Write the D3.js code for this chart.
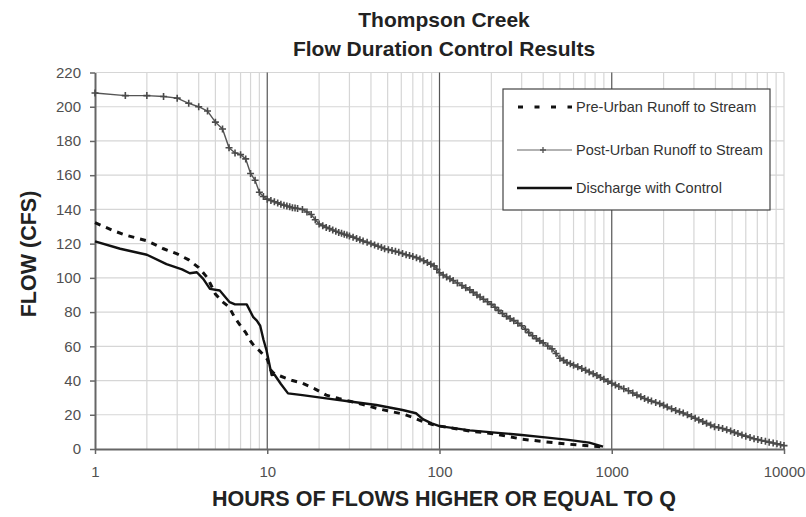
<!DOCTYPE html>
<html>
<head>
    <title>Thompson Creek Flow Duration Control Results</title>
    <script src="https://d3js.org/d3.v7.min.js"></script>
    <style>
        body { margin: 0; background: #fff; }
        svg { display: block; font-family: "Liberation Sans", Arial, sans-serif; }
    </style>
</head>
<body>
    <svg width="806" height="517"></svg>
    <script>
        // values
        var preHours = [1, 1.25, 1.5, 2, 2.5, 3, 3.5, 4, 4.5, 5, 5.5, 6, 6.5, 7, 7.5, 8, 8.5, 9, 9.5, 10, 10.5, 11, 12, 14, 16, 19, 22, 26, 31, 36, 43, 50, 61, 70, 80, 90, 100, 150, 210, 300, 410, 560, 740, 890];
        var preFlow = [132.3, 128, 125, 121.7, 117, 114, 110.5, 106, 100, 90.5, 86, 83, 76.5, 72, 68, 63, 59.5, 57.5, 55, 52.5, 46, 44, 42.5, 40, 38.4, 35, 31.5, 29.5, 27.6, 26, 23.8, 22.3, 20.5, 18.5, 16, 14.5, 13.4, 10.5, 8.8, 5.8, 4.2, 2.8, 1.8, 1.2];

        var postHours = [1, 1.5, 2, 2.5, 3, 3.5, 4, 4.5, 5, 5.5, 6, 6.5, 7, 7.5, 8, 8.5, 9, 9.5,
            10, 10.5, 11, 11.5, 12, 12.5, 13, 13.5, 14, 14.5, 15, 16, 17, 18, 19, 20, 21, 22, 23, 24, 25, 26, 27, 28, 29, 30,
            31.5, 33, 34.5, 36, 38, 40, 42, 44, 46, 48, 50.5, 53, 55.5, 58, 61, 64, 67, 70, 73.5, 77, 81, 85, 89, 93, 96.5,
            100, 105, 110, 115, 120, 127, 135, 142, 150, 157, 165, 172, 180, 190, 200, 210, 220, 232, 245, 257, 270, 285, 300,
            315, 330, 347, 365, 382, 400, 425, 450, 475, 500, 525, 550, 575, 600, 635, 670, 705, 740, 780, 820, 860, 900, 950,
            1000, 1050, 1100, 1175, 1250, 1325, 1400, 1475, 1550, 1625, 1700, 1800, 1900, 2000, 2100, 2225, 2350, 2475, 2600,
            2750, 2900, 3050, 3200, 3375, 3550, 3750, 3950, 4175, 4400, 4650, 4900, 5150, 5400, 5700, 6000, 6350, 6700, 7050,
            7400, 7800, 8200, 8650, 9100, 9550, 10000];
        var postFlow = [208, 206.5, 206.5, 206, 205, 202, 200, 197.5, 191, 187, 176, 173, 172, 169.5, 161, 157, 150, 147.5,
            146, 145.2, 144.5, 143.8, 143, 142.5, 142, 141.5, 141, 140.8, 140.5, 140, 138.5, 137, 134, 131.5, 130.5, 129.5, 128.8, 128, 127.2, 126.5, 126, 125.5, 125, 124.5,
            123.8, 123, 122.2, 121.5, 120.8, 120, 119.2, 118.5, 117.8, 117, 116.5, 116, 115.5, 115, 114.2, 113.5, 113, 112.5, 111.8, 111, 110, 109, 108, 107, 105,
            103, 101.7, 100.5, 99.5, 98.5, 97, 95.5, 94.2, 93, 91.5, 90, 88.8, 87.5, 86, 84.5, 82.8, 81, 79.2, 77.5, 76.2, 75, 73.5, 72,
            70, 68, 66.2, 64.5, 63.2, 62, 60.2, 58.5, 55.8, 53, 51.8, 50.5, 49.8, 49, 48, 47, 46, 45, 44, 43, 41.8, 40.8, 39.5,
            38.4, 37.4, 36.5, 35.2, 34, 32.7, 31.5, 30.5, 29.5, 28.7, 28, 27.2, 26.5, 25.5, 24.5, 23.5, 22.5, 21.7, 21,
            20, 19, 18, 17, 16, 15, 14, 13, 12.5, 12, 11.2, 10.5, 9.7, 9, 8.2, 7.5, 6.7, 6, 5.5,
            5, 4.5, 4, 3.5, 3, 2.5, 2];

        var ctlHours = [1, 1.4, 2, 2.6, 3.2, 3.55, 3.9, 4.25, 4.65, 5.3, 6.05, 6.5, 7, 7.6, 8.3, 8.7, 9.1, 9.5, 9.9, 10.6, 11, 12, 13.2, 16, 22, 31, 43, 61, 73, 80, 90, 100, 150, 210, 300, 410, 560, 740, 890];
        var ctlFlow = [121.3, 117, 113.5, 108, 105, 102.7, 103.3, 99.4, 93.6, 92.6, 85.8, 84.5, 84.5, 84.5, 77, 75, 72, 64, 57.7, 43.2, 43.5, 38, 32.5, 31.5, 29.6, 27.6, 25.7, 22.8, 20.9, 17.5, 15, 13.4, 10.9, 9.6, 8.2, 6.8, 5.3, 3.7, 1.4];

        var yTicks = [0, 20, 40, 60, 80, 100, 120, 140, 160, 180, 200, 220];
        var xTicks = [1, 10, 100, 1000, 10000];
        var seriesNames = ["Pre-Urban Runoff to Stream", "Post-Urban Runoff to Stream", "Discharge with Control"];

        var svg = d3.select("svg");

        var x = d3.scaleLog().domain([1, 10000]).range([95, 784]);
        var y = d3.scaleLinear().domain([0, 220]).range([449, 72.5]);

        // grid
        var minor = [];
        [1, 10, 100, 1000].forEach(function (dec) {
            for (var k = 2; k <= 9; k++) minor.push(dec * k);
        });
        svg.append("g").selectAll("line").data(yTicks.slice(1)).enter().append("line")
            .attr("x1", x(1)).attr("x2", x(10000))
            .attr("y1", function (d) { return y(d); }).attr("y2", function (d) { return y(d); })
            .attr("stroke", "#d6d6d6").attr("stroke-width", 1.2);
        svg.append("g").selectAll("line").data(minor.concat([10000])).enter().append("line")
            .attr("x1", function (d) { return x(d); }).attr("x2", function (d) { return x(d); })
            .attr("y1", y(0)).attr("y2", y(220))
            .attr("stroke", "#d6d6d6").attr("stroke-width", 1.2);
        svg.append("g").selectAll("line").data([10, 100, 1000]).enter().append("line")
            .attr("x1", function (d) { return x(d); }).attr("x2", function (d) { return x(d); })
            .attr("y1", y(0)).attr("y2", y(220))
            .attr("stroke", "#555").attr("stroke-width", 1.2);

        // axes
        var yAxis = svg.append("g")
            .attr("transform", "translate(" + x(1) + ",0)")
            .call(d3.axisLeft(y).tickValues(yTicks).tickSize(5).tickPadding(9).tickSizeOuter(0));
        var xAxis = svg.append("g")
            .attr("transform", "translate(0," + y(0) + ")")
            .call(d3.axisBottom(x).tickValues(xTicks).tickFormat(d3.format("d")).tickSize(5).tickPadding(12).tickSizeOuter(0));
        [yAxis, xAxis].forEach(function (a) {
            a.select(".domain").attr("stroke", "#666").attr("stroke-width", 2);
            a.selectAll(".tick line").attr("stroke", "#666").attr("stroke-width", 1.5);
            a.selectAll(".tick text").attr("fill", "#505050").style("font-size", "15px")
                .style("font-family", "'Liberation Sans', Arial, sans-serif");
        });

        // series
        var line = d3.line()
            .x(function (d) { return x(d[0]); })
            .y(function (d) { return y(d[1]); });
        var pre = d3.zip(preHours, preFlow);
        var post = d3.zip(postHours, postFlow);
        var ctl = d3.zip(ctlHours, ctlFlow);

        svg.append("path").datum(post).attr("d", line)
            .attr("fill", "none").attr("stroke", "#555").attr("stroke-width", 1.4);
        svg.append("g").selectAll("path").data(post).enter().append("path")
            .attr("d", function (d) {
                var px = x(d[0]), py = y(d[1]);
                return "M" + (px - 3.5) + "," + py + "H" + (px + 3.5) + "M" + px + "," + (py - 3.5) + "V" + (py + 3.5);
            })
            .attr("stroke", "#4a4a4a").attr("stroke-width", 1.6);

        svg.append("path").datum(ctl).attr("d", line)
            .attr("fill", "none").attr("stroke", "#111").attr("stroke-width", 2.4)
            .attr("stroke-linejoin", "round");
        svg.append("path").datum(pre).attr("d", line)
            .attr("fill", "none").attr("stroke", "#111").attr("stroke-width", 3)
            .attr("stroke-dasharray", "6,6");

        // legend
        var legend = svg.append("g");
        legend.append("rect")
            .attr("x", 503).attr("y", 89).attr("width", 267).attr("height", 121)
            .attr("fill", "#fff").attr("stroke", "#444").attr("stroke-width", 1.2);
        var rows = [107, 150, 188];
        rows.forEach(function (ry, i) {
            var l = legend.append("line")
                .attr("x1", 517).attr("x2", 572).attr("y1", ry).attr("y2", ry);
            if (i == 0) l.attr("stroke", "#111").attr("stroke-width", 3).attr("stroke-dasharray", "5,11.5").attr("stroke-dashoffset", -1);
            if (i == 1) {
                l.attr("stroke", "#666").attr("stroke-width", 1.2);
                legend.append("path").attr("d", "M540," + ry + "H546M543," + (ry - 3) + "V" + (ry + 3))
                    .attr("stroke", "#555").attr("stroke-width", 1.3);
            }
            if (i == 2) l.attr("stroke", "#111").attr("stroke-width", 2.6);
            legend.append("text")
                .attr("x", 576).attr("y", ry + 5)
                .attr("fill", "#333").style("font-size", "14.5px")
                .text(seriesNames[i]);
        });

        // titles
        svg.append("text").attr("x", 444).attr("y", 27).attr("text-anchor", "middle")
            .attr("fill", "#222").style("font-size", "21px").style("font-weight", "bold")
            .text("Thompson Creek");
        svg.append("text").attr("x", 444).attr("y", 56).attr("text-anchor", "middle")
            .attr("fill", "#222").style("font-size", "21px").style("font-weight", "bold")
            .text("Flow Duration Control Results");
        svg.append("text").attr("x", 444).attr("y", 506).attr("text-anchor", "middle")
            .attr("fill", "#222").style("font-size", "21.5px").style("font-weight", "bold")
            .text("HOURS OF FLOWS HIGHER OR EQUAL TO Q");
        svg.append("text").attr("transform", "translate(36,254) rotate(-90)").attr("text-anchor", "middle")
            .attr("fill", "#222").style("font-size", "21.5px").style("font-weight", "bold")
            .text("FLOW (CFS)");
    </script>
</body>
</html>
